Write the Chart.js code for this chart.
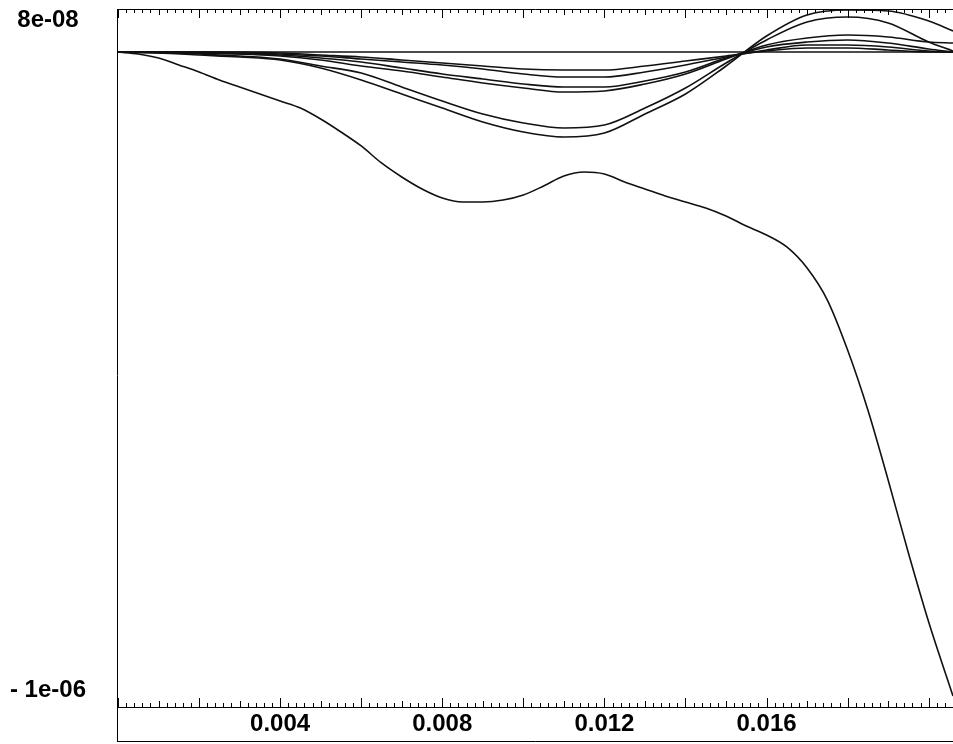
<!DOCTYPE html>
<html>
<head>
<meta charset="utf-8">
<script src="https://cdn.jsdelivr.net/npm/chart.js@4/dist/chart.umd.min.js"></script>
<style>
  body { margin: 0; background: #fff; }
  canvas { display: block; }
</style>
</head>
<body>
<canvas id="grafico" width="953" height="744"></canvas>
<script>
// x positions (s), values in units of 1e-9
const xs = [0, 0.001, 0.002, 0.003, 0.004, 0.005, 0.006, 0.007, 0.008, 0.009, 0.010,
            0.011, 0.012, 0.013, 0.014, 0.015, 0.016, 0.017, 0.018, 0.019, 0.020, 0.0206];
const xsFine = [0, 0.0005, 0.001, 0.0015, 0.002, 0.0025, 0.003, 0.0035, 0.004, 0.0045,
                0.005, 0.0055, 0.006, 0.0065, 0.007, 0.0075, 0.008, 0.0085, 0.009, 0.0095,
                0.010, 0.0105, 0.011, 0.0115, 0.012, 0.0125, 0.013, 0.0135, 0.014, 0.0145,
                0.015, 0.0155, 0.016, 0.0165, 0.017, 0.0175, 0.018, 0.0185, 0.019, 0.0195,
                0.020, 0.0206];

const baseX = [0, 0.0206];
const baseline = [28.4, 28.4];

const curvaA = [28.4, 25.2, 18.7, 7.5, -3.8, -16.7, -28.0, -39.3, -50.6, -61.9,
                -79.6, -100.5, -123.1, -150.5, -173.1, -192.4, -206.9, -213.4, -213.4, -210.2,
                -202.1, -187.6, -171.5, -165.0, -168.2, -181.1, -192.4, -203.7, -213.4, -223.1,
                -236.0, -252.1, -266.6, -285.9, -319.8, -371.4, -452.0, -548.7, -661.5, -779.2,
                -890.4, -1009.7];
const curvaB1 = [28.4, 26.8, 23.6, 20.4, 15.5, 2.6, -16.7, -39.3, -61.9, -84.4, -100.5,
                 -108.6, -102.2, -71.5, -39.3, 5.8, 54.2, 88.1, 96.1, 94.5, 78.4, 62.3];
const curvaB2 = [28.4, 26.8, 25.2, 22.0, 17.1, 5.8, -5.4, -28.0, -50.6, -71.5, -86.0,
                 -94.1, -89.3, -61.9, -29.6, 10.7, 47.8, 76.8, 84.8, 75.2, 44.5, 30.0];
const curvaM4 = [28.4, 28.4, 26.8, 25.2, 22.0, 15.5, 5.8, -2.2, -11.9, -21.6, -29.6,
                 -36.1, -34.4, -23.2, -7.0, 17.1, 39.7, 51.0, 55.8, 52.6, 44.5, 42.9];
const curvaM3 = [28.4, 28.4, 26.8, 25.2, 23.6, 18.7, 12.3, 2.6, -7.0, -15.1, -23.2,
                 -28.0, -28.0, -18.3, -3.8, 18.7, 36.5, 44.5, 47.8, 42.9, 33.2, 28.4];
const curvaM2 = [28.4, 28.4, 28.4, 26.8, 25.2, 22.0, 17.1, 12.3, 7.5, 1.0, -7.0,
                 -11.9, -11.9, -3.8, 7.5, 20.4, 31.6, 39.7, 39.7, 36.5, 30.0, 28.4];
const curvaM1 = [28.4, 28.4, 28.4, 28.4, 26.8, 23.6, 20.4, 15.5, 10.7, 5.8, 1.0,
                 -0.6, -0.6, 5.8, 13.9, 22.0, 30.0, 34.9, 34.9, 31.6, 28.4, 28.4];

const xTicks = [0.004, 0.008, 0.012, 0.016];
const yTicks = [80, -1000];

const fuente = { family: "'Liberation Sans', Arial, sans-serif", size: 24, weight: 'bold' };

function puntos(x, y) {
    return x.map((v, i) => ({ x: v, y: y[i] }));
}

function serie(x, y) {
    return {
        data: puntos(x, y),
        borderColor: '#111',
        borderWidth: 1.6,
        pointRadius: 0,
        fill: false,
        cubicInterpolationMode: 'monotone'
    };
}

function etiquetaY(v) {
    const e = v * 1e-9;
    let s = Math.abs(e).toExponential(0).replace(/e([+-])(\d)$/, 'e$10$2');
    return e < 0 ? '- ' + s : s;
}

function sinRelleno(axis) {
    axis.paddingTop = 0;
    axis.paddingBottom = 0;
    axis.paddingLeft = 0;
    axis.paddingRight = 0;
}

// frame and small tick marks
const marco = {
    id: 'marco',
    afterDraw(chart) {
        const ctx = chart.ctx;
        const a = chart.chartArea;
        const sx = chart.scales.x;
        ctx.save();
        ctx.strokeStyle = '#000';
        ctx.lineWidth = 1;
        ctx.beginPath();
        ctx.moveTo(a.left - 0.5, a.top + 0.5);
        ctx.lineTo(a.right, a.top + 0.5);
        ctx.moveTo(a.left - 0.5, a.top);
        ctx.lineTo(a.left - 0.5, 742);
        ctx.moveTo(a.left - 0.5, 741.5);
        ctx.lineTo(a.right, 741.5);
        for (let i = 0; i * 0.0002 <= sx.max + 1e-9; i++) {
            const px = Math.round(sx.getPixelForValue(i * 0.0002)) + 0.5;
            const len = i % 10 === 0 ? 9 : (i % 5 === 0 ? 6 : 4);
            ctx.moveTo(px, a.top);
            ctx.lineTo(px, a.top + len);
            ctx.moveTo(px, a.bottom);
            ctx.lineTo(px, a.bottom - len);
        }
        ctx.stroke();
        ctx.restore();
    }
};

new Chart(document.getElementById('grafico'), {
    type: 'line',
    data: {
        datasets: [
            serie(baseX, baseline),
            serie(xsFine, curvaA),
            serie(xs, curvaB1),
            serie(xs, curvaB2),
            serie(xs, curvaM4),
            serie(xs, curvaM3),
            serie(xs, curvaM2),
            serie(xs, curvaM1)
        ]
    },
    options: {
        responsive: false,
        animation: false,
        devicePixelRatio: 1,
        layout: { padding: { top: 9, left: 0, right: 0, bottom: 0 } },
        plugins: {
            legend: { display: false },
            tooltip: { enabled: false }
        },
        scales: {
            x: {
                type: 'linear',
                min: 0,
                max: 0.0206,
                afterBuildTicks: (axis) => { axis.ticks = xTicks.map(v => ({ value: v })); },
                afterFit: (axis) => { axis.height = 37; sinRelleno(axis); },
                grid: { display: false, drawTicks: false },
                border: { display: true, color: '#000', width: 1 },
                ticks: {
                    color: '#000',
                    font: fuente,
                    padding: 3,
                    maxRotation: 0,
                    autoSkip: false,
                    callback: (v) => v.toFixed(3)
                }
            },
            y: {
                type: 'linear',
                min: -1027.4,
                max: 97.7,
                afterBuildTicks: (axis) => { axis.ticks = yTicks.map(v => ({ value: v })); },
                afterFit: (axis) => { axis.width = 118; sinRelleno(axis); },
                grid: { display: false, drawTicks: false },
                border: { display: false },
                ticks: {
                    color: '#000',
                    font: fuente,
                    padding: 32,
                    crossAlign: 'center',
                    callback: etiquetaY
                }
            }
        }
    },
    plugins: [marco]
});
</script>
</body>
</html>
